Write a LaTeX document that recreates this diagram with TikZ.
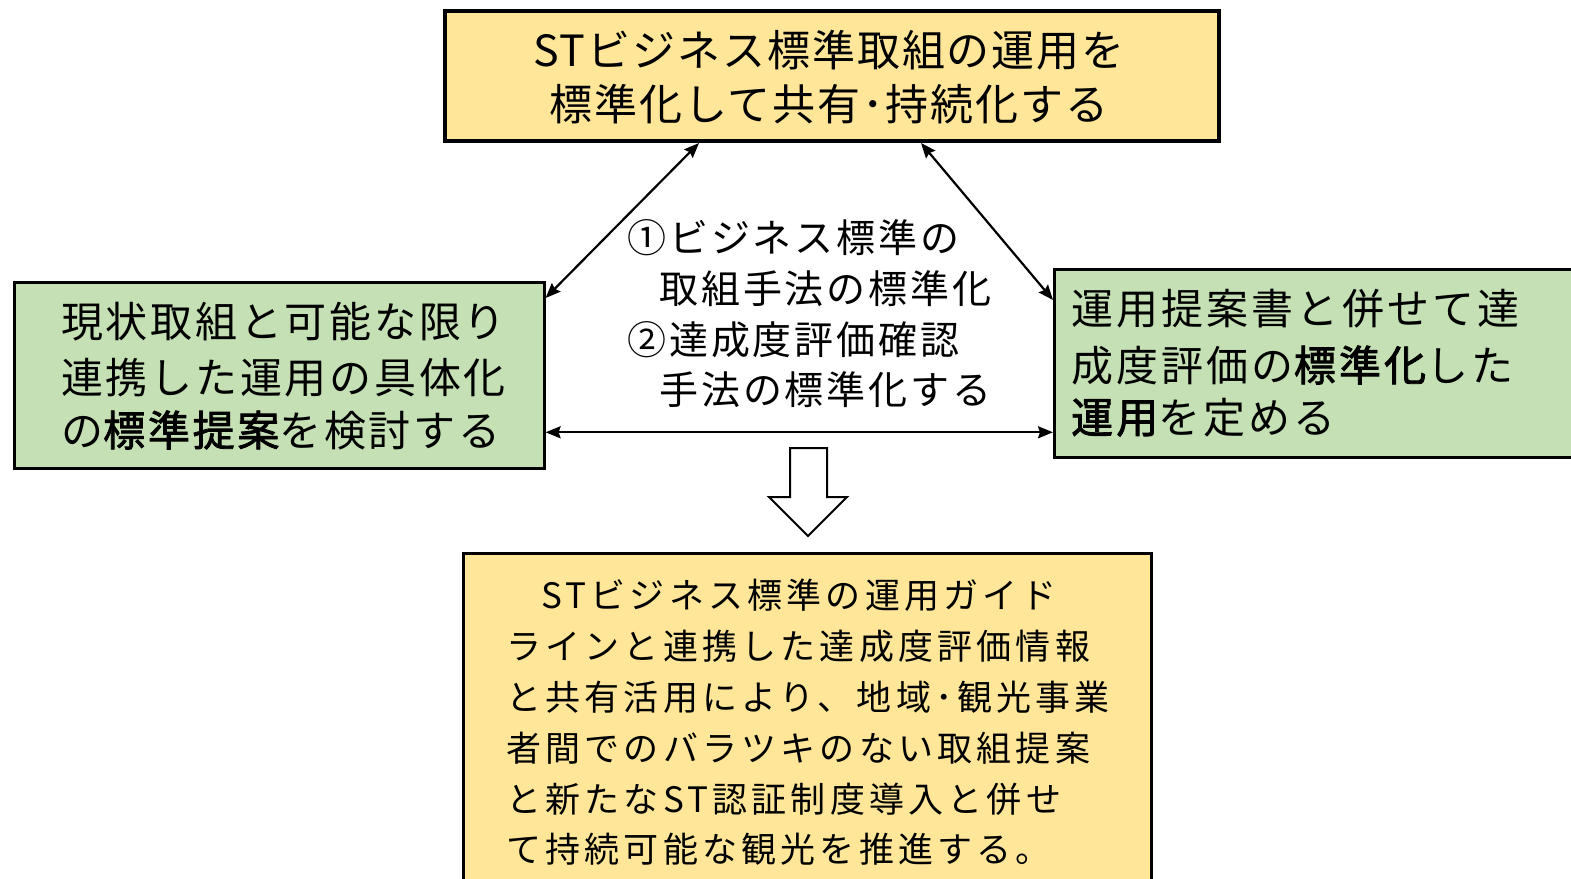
\documentclass[tikz,border=0pt]{standalone}
\usepackage{fontspec}
\usetikzlibrary{arrows.meta,calc}
\newfontfamily\jpT{Noto Sans CJK JP}[LetterSpace=4.5]
\newfontfamily\jpL{Noto Sans CJK JP}[LetterSpace=6.5]
\newfontfamily\jpLb{Noto Sans CJK JP}[LetterSpace=6.5, FakeBold=2]
\newfontfamily\jpR{Noto Sans CJK JP}[LetterSpace=7.5]
\newfontfamily\jpRb{Noto Sans CJK JP}[LetterSpace=7.5, FakeBold=2]
\newfontfamily\jpC{Noto Sans CJK JP}[LetterSpace=7.5]
\newfontfamily\jpB{Noto Sans CJK JP}[LetterSpace=12]
\definecolor{yel}{HTML}{FFE699}
\definecolor{grn}{HTML}{C5E0B4}
\tikzset{
  box/.style={draw=black, line width=2.6pt, anchor=north west, inner sep=0pt},
  txt/.style={inner sep=0pt, text=black},
  conn/.style={line width=2.2pt, {Stealth[length=15pt,width=12pt,inset=2pt]}-{Stealth[length=15pt,width=12pt,inset=2pt]}},
}
\begin{document}
\begin{tikzpicture}[x=1pt,y=-1pt]
\useasboundingbox (0,0) rectangle (1571,878);
% boxes
\node[box, fill=yel, line width=4pt, minimum width=774pt, minimum height=130pt] (top) at (443,9) {};
\node[box, fill=grn, minimum width=530pt, minimum height=186pt] (left) at (13,281) {};
\node[box, fill=grn, minimum width=530pt, minimum height=188pt] (right) at (1053,268) {};
\node[box, fill=yel, minimum width=688pt, minimum height=340pt] (bottom) at (462,552) {};
% top text
\node[txt, anchor=base, font=\jpT\fontsize{43}{50}\selectfont] (t1) at (829,66) {STビジネス標準取組の運用を};
\node[txt, anchor=base, font=\jpT\fontsize{43}{50}\selectfont] (t2) at (829,120) {標準化して共有･持続化する};
% left text
\node[txt, anchor=base west, font=\jpL\fontsize{42}{50}\selectfont] (l1) at (61,337) {現状取組と可能な限り};
\node[txt, anchor=base west, font=\jpL\fontsize{42}{50}\selectfont] (l2) at (61,393) {連携した運用の具体化};
\node[txt, anchor=base west, font=\jpL\fontsize{42}{50}\selectfont] (l3) at (61,446) {の{\jpLb 標準提案}を検討する};
% right text
\node[txt, anchor=base west, font=\jpR\fontsize{42}{50}\selectfont] (r1) at (1071,324) {運用提案書と併せて達};
\node[txt, anchor=base west, font=\jpR\fontsize{42}{50}\selectfont] (r2) at (1071,381) {成度評価の{\jpRb 標準化}した};
\node[txt, anchor=base west, font=\jpR\fontsize{42}{50}\selectfont] (r3) at (1071,433) {{\jpRb 運用}を定める};
% centre text
\node[txt, anchor=base west, font=\jpC\fontsize{39}{50}\selectfont] (c1) at (627,252) {①ビジネス標準の};
\node[txt, anchor=base west, font=\jpC\fontsize{39}{50}\selectfont] (c2) at (659,303) {取組手法の標準化};
\node[txt, anchor=base west, font=\jpC\fontsize{39}{50}\selectfont] (c3) at (627,354) {②達成度評価確認};
\node[txt, anchor=base west, font=\jpC\fontsize{39}{50}\selectfont] (c4) at (659,404) {手法の標準化する};
% bottom text
\node[txt, anchor=base west, font=\jpB\fontsize{35}{50}\selectfont] (b1) at (541,608) {STビジネス標準の運用ガイド};
\node[txt, anchor=base west, font=\jpB\fontsize{35}{50}\selectfont] (b2) at (506,659) {ラインと連携した達成度評価情報};
\node[txt, anchor=base west, font=\jpB\fontsize{35}{50}\selectfont] (b3) at (506,710) {と共有活用により、地域･観光事業};
\node[txt, anchor=base west, font=\jpB\fontsize{35}{50}\selectfont] (b4) at (506,761) {者間でのバラツキのない取組提案};
\node[txt, anchor=base west, font=\jpB\fontsize{35}{50}\selectfont] (b5) at (506,812) {と新たなST認証制度導入と併せ};
\node[txt, anchor=base west, font=\jpB\fontsize{35}{50}\selectfont] (b6) at (506,862) {て持続可能な観光を推進する。};
% connectors
\draw[conn] ([xshift=-133pt]top.south) -- ([yshift=-17pt]left.north east);
\draw[conn] ([xshift=89pt]top.south) -- ([yshift=-32pt]right.north west);
\draw[conn] ([yshift=-57pt]left.east) coordinate (h1) -- (h1 -| right.west);
% hollow down arrow
\draw[line width=2pt, fill=white, line join=miter] (790,448) -- (827,448) -- (827,497) -- (847,497) -- (808,536) -- (769,497) -- (790,497) -- cycle;
\end{tikzpicture}
\end{document}
